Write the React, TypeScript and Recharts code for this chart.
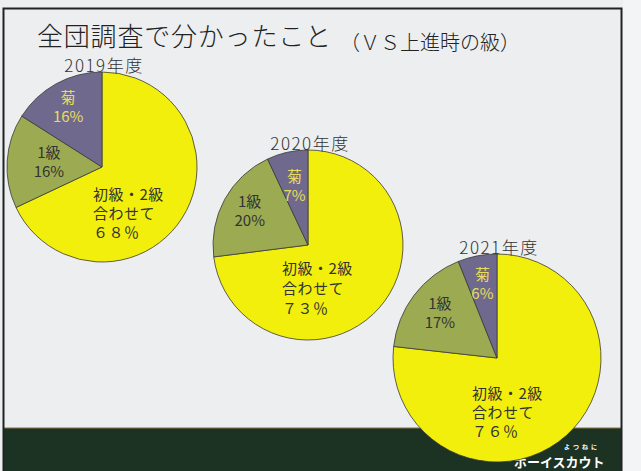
import { PieChart, Pie, Cell } from "recharts"

const categories = ["初級・2級", "1級", "菊"]
const years = ["2019年度", "2020年度", "2021年度"]
const share2019 = [68, 16, 16]
const share2020 = [73, 20, 7]
const share2021 = [76, 17, 6]

const COLORS = ["#f2ef0c", "#9cab52", "#6f6a8d"]
const FONT = "'Noto Sans CJK JP', 'Noto Sans', sans-serif"
const RAD = Math.PI / 180

// layout of each pie (style only)
const pies = [
  { cx: 102, cy: 167, r: 95, mainDx: -9, mainDy: 26, gap: 19, smallR: [0, 0.56, 0.74] },
  { cx: 308, cy: 245, r: 95, mainDx: -26, mainDy: 22, gap: 20, smallR: [0, 0.7, 0.65] },
  { cx: 497, cy: 358, r: 104, mainDx: -25, mainDy: 34, gap: 19, smallR: [0, 0.69, 0.74] },
]

const tables = [share2019, share2020, share2021].map((vals) =>
  vals.map((v, i) => ({ name: categories[i], value: v }))
)

const fullWidth = (s: string) =>
  s.replace(/[0-9%]/g, (c) => (c === "%" ? "％" : String.fromCharCode(c.charCodeAt(0) + 0xfee0)))

function makeLabel(p: (typeof pies)[number]) {
  return (props: any) => {
    const { cx, cy, midAngle, outerRadius, index, value, name } = props
    if (index === 0) {
      const x = cx + p.mainDx
      const y = cy + p.mainDy
      return (
        <text x={x} y={y} fill="#333" fontSize={15} fontFamily={FONT} textAnchor="start" dominantBaseline="central" letterSpacing={0.5}>
          <tspan x={x} y={y}>{name}</tspan>
          <tspan x={x} y={y + p.gap}>合わせて</tspan>
          <tspan x={x} y={y + p.gap * 2}>{fullWidth(String(value) + "%")}</tspan>
        </text>
      )
    }
    const rr = outerRadius * p.smallR[index]
    const x = cx + rr * Math.cos(-midAngle * RAD)
    const y = cy + rr * Math.sin(-midAngle * RAD) - (index === 1 ? 3 : 0)
    const color = index === 2 ? "#e8dd5c" : "#333"
    return (
      <text x={x} y={y} fill={color} fontSize={15} fontFamily={FONT} textAnchor="middle" dominantBaseline="central">
        <tspan x={x} y={y - 9.5}>{name}</tspan>
        <tspan x={x} y={y + 9.5}>{value + "%"}</tspan>
      </text>
    )
  }
}

export default function App() {
  return (
    <div style={{ position: "absolute", left: 0, top: 0, width: 641, height: 471, overflow: "hidden", background: "#eceef0" }}>
      <svg width={641} height={471} style={{ position: "absolute", left: 0, top: 0 }}>
        <rect x={623} y={0} width={18} height={471} fill="#f3f4f5" />
        <rect x={4} y={428} width={617} height={43} fill="#1c3222" />
        <line x1={4} y1={428} x2={621} y2={428} stroke="#8a7444" strokeWidth={1} />
        <rect x={3.5} y={8.5} width={618} height={470} fill="none" stroke="#222" strokeWidth={2} />
        <text x={514} y={467} fill="#fff" fontSize={13} fontWeight="bold" fontFamily={FONT}>ボーイスカウト</text>
        <text x={564} y={449} fill="#fff" fontSize={6} fontWeight="bold" fontFamily={FONT} letterSpacing={3}>よつねに</text>
      </svg>
      <div style={{ position: "absolute", left: 0, top: 0 }}>
        <PieChart width={641} height={471} margin={{ top: 0, right: 0, bottom: 0, left: 0 }}>
          {pies.map((p, i) => (
            <Pie
              key={years[i]}
              data={tables[i]}
              dataKey="value"
              nameKey="name"
              cx={p.cx}
              cy={p.cy}
              outerRadius={p.r}
              startAngle={90}
              endAngle={-270}
              stroke="#3a3a3a"
              strokeWidth={0.8}
              labelLine={false}
              label={makeLabel(p)}
              isAnimationActive={false}
            >
              {tables[i].map((d, j) => (
                <Cell key={d.name} fill={COLORS[j]} />
              ))}
            </Pie>
          ))}
        </PieChart>
      </div>
      <svg width={641} height={471} style={{ position: "absolute", left: 0, top: 0, pointerEvents: "none" }}>
        <text x={37} y={46} fontSize={26} fontWeight={300} fill="#222" fontFamily={FONT} letterSpacing={0.8}>全団調査で分かったこと</text>
        <text x={340} y={50} fontSize={20} fontWeight={300} fill="#222" fontFamily={FONT}>（ＶＳ上進時の級）</text>
        {pies.map((p, i) => (
          <text key={years[i]} x={p.cx + 2} y={p.cy - p.r - 8} fontSize={17} fontWeight={300} fill="#333" fontFamily={FONT} textAnchor="middle" dominantBaseline="central" letterSpacing={1.5}>
            {years[i]}
          </text>
        ))}
      </svg>
    </div>
  )
}
